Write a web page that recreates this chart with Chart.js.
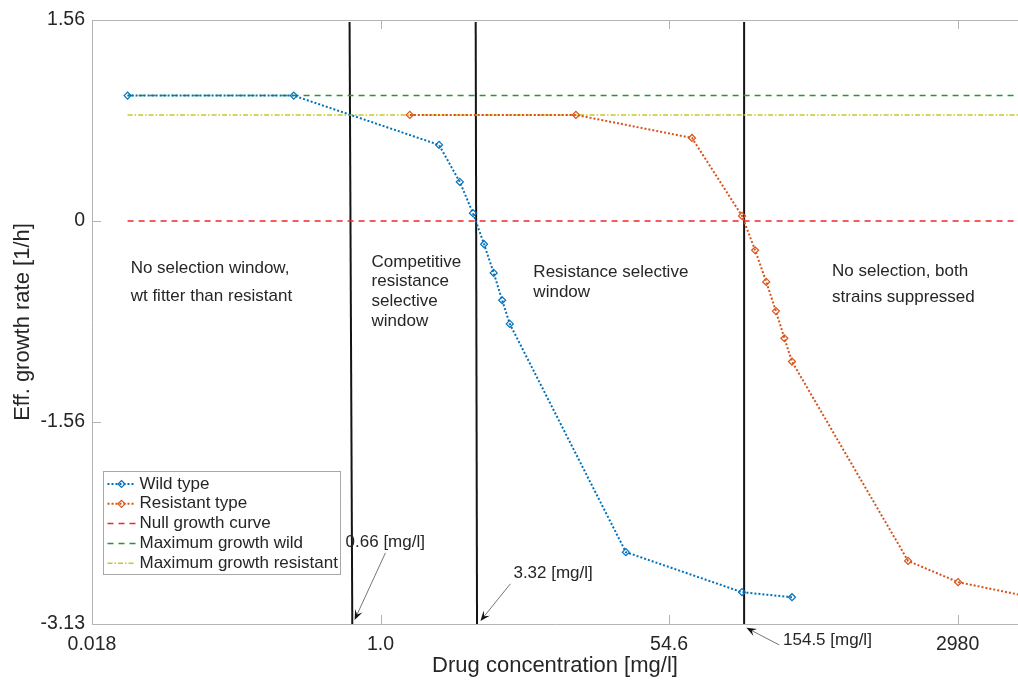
<!DOCTYPE html>
<html>
<head>
<meta charset="utf-8">
<script src="https://cdn.jsdelivr.net/npm/chart.js@4.4.1/dist/chart.umd.min.js"></script>
<style>
  html, body { margin: 0; padding: 0; background: #fff; overflow: hidden; }
</style>
</head>
<body>
<canvas id="chart" width="1018" height="681"></canvas>
<script>
// drug concentration [mg/l] vs effective growth rate [1/h]
const wildConc = [0.03, 0.3, 2.25, 3.0, 3.6, 4.2, 4.8, 5.4, 6.0, 30, 150, 300];
const wildRate = [0.973, 0.973, 0.59, 0.303, 0.06, -0.181, -0.404, -0.616, -0.80, -2.572, -2.883, -2.922];
const resConc = [1.5, 15, 75, 150, 180, 210, 240, 270, 300, 1500, 3000, 15000];
const resRate = [0.823, 0.823, 0.644, 0.039, -0.228, -0.474, -0.70, -0.911, -1.092, -2.64, -2.805, -2.99];

const nullRate = 0;
const maxWildRate = 0.973;
const maxResRate = 0.823;
const refConc = [0.03, 20000];           // reference lines run from first sample to past the edge

// window borders: concentration at top and at bottom of the plot
const cutTop = [0.651, 3.74, 154.5];
const cutBottom = [0.676, 3.81, 154.5];

const xTickVals = [Math.exp(-4), 1, Math.exp(4), Math.exp(8)];
const xTickLabels = ['0.018', '1.0', '54.6', '2980'];
const yTickVals = [-3.13, -1.56, 0, 1.56];
const yTickLabels = ['-3.13', '-1.56', '0', '1.56'];

const windowNotes = [
  {x: 0.0313, y: -0.365, gap: 28, lines: ['No selection window,', 'wt fitter than resistant']},
  {x: 0.883, y: -0.318, gap: 19.7, lines: ['Competitive', 'resistance', 'selective', 'window']},
  {x: 8.32, y: -0.396, gap: 20, lines: ['Resistance selective', 'window']},
  {x: 523, y: -0.388, gap: 26, lines: ['No selection, both', 'strains suppressed']}
];
const arrowNotes = [
  {text: '0.66 [mg/l]', tx: 0.616, ty: -2.492, from: [1.07, -2.578], to: [0.698, -3.098]},
  {text: '3.32 [mg/l]', tx: 6.31, ty: -2.733, from: [6.05, -2.818], to: [3.995, -3.106]},
  {text: '154.5 [mg/l]', tx: 265, ty: -3.253, from: [251, -3.292], to: [159.5, -3.16]}
];

const FONT = '"Liberation Sans", Arial, Helvetica, sans-serif';
const axisColor = '#b4b4b4';
const textColor = '#262626';

const pts = (xs, ys) => xs.map((x, i) => ({x: x, y: ys[i]}));

const datasets = [
  {
    label: 'Wild type', data: pts(wildConc, wildRate),
    borderColor: '#0072BD', borderWidth: 2, borderDash: [2, 2],
    pointStyle: 'rectRot', pointRadius: 3.5, pointBorderWidth: 1.2,
    pointBorderColor: '#0072BD', pointBackgroundColor: 'rgba(0,0,0,0)'
  },
  {
    label: 'Resistant type', data: pts(resConc, resRate),
    borderColor: '#D95319', borderWidth: 2, borderDash: [2, 2],
    pointStyle: 'rectRot', pointRadius: 3.5, pointBorderWidth: 1.2,
    pointBorderColor: '#D95319', pointBackgroundColor: 'rgba(0,0,0,0)'
  },
  {
    label: 'Null growth curve', data: pts(refConc, [nullRate, nullRate]),
    borderColor: '#f02828', borderWidth: 1.5, borderDash: [6, 5], pointRadius: 0
  },
  {
    label: 'Maximum growth wild', data: pts(refConc, [maxWildRate, maxWildRate]),
    borderColor: '#2a962a', borderWidth: 1.5, borderDash: [6, 5], pointRadius: 0
  },
  {
    label: 'Maximum growth resistant', data: pts(refConc, [maxResRate, maxResRate]),
    borderColor: '#c8c828', borderWidth: 1.5, borderDash: [5, 2, 1.5, 2], pointRadius: 0
  }
];
cutTop.forEach((c, i) => {
  datasets.push({
    label: 'cut' + i, hideInLegend: true,
    data: [{x: c, y: 1.545}, {x: cutBottom[i], y: -3.13}],
    borderColor: '#141414', borderWidth: 2, pointRadius: 0
  });
});

function diamond(ctx, x, y, r, color) {
  ctx.save();
  ctx.setLineDash([]);
  ctx.strokeStyle = color;
  ctx.lineWidth = 1.2;
  ctx.beginPath();
  ctx.moveTo(x, y - r); ctx.lineTo(x + r, y); ctx.lineTo(x, y + r); ctx.lineTo(x - r, y);
  ctx.closePath();
  ctx.stroke();
  ctx.restore();
}

function arrow(ctx, x1, y1, x2, y2) {
  const a = Math.atan2(y2 - y1, x2 - x1);
  const c = Math.cos(a), s = Math.sin(a);
  ctx.save();
  ctx.strokeStyle = '#666';
  ctx.lineWidth = 0.9;
  ctx.beginPath();
  ctx.moveTo(x1, y1);
  ctx.lineTo(x2 - 6 * c, y2 - 6 * s);
  ctx.stroke();
  // notched head
  const L = 10, W = 4;
  ctx.fillStyle = '#111';
  ctx.beginPath();
  ctx.moveTo(x2, y2);
  ctx.lineTo(x2 - L * c + W * s, y2 - L * s - W * c);
  ctx.lineTo(x2 - 6 * c, y2 - 6 * s);
  ctx.lineTo(x2 - L * c - W * s, y2 - L * s + W * c);
  ctx.closePath();
  ctx.fill();
  ctx.restore();
}

const framePlugin = {
  id: 'frame',
  afterDatasetsDraw(chart) {
    const {ctx, chartArea: a, scales: {x, y}} = chart;
    ctx.save();
    ctx.strokeStyle = axisColor;
    ctx.lineWidth = 1;
    ctx.beginPath();
    ctx.moveTo(a.left, a.top + 0.5);
    ctx.lineTo(a.right, a.top + 0.5);
    xTickVals.forEach(v => {
      const px = Math.round(x.getPixelForValue(v)) + 0.5;
      ctx.moveTo(px, a.bottom); ctx.lineTo(px, a.bottom - 9);
      ctx.moveTo(px, a.top); ctx.lineTo(px, a.top + 9);
    });
    yTickVals.forEach(v => {
      const py = Math.round(y.getPixelForValue(v)) + 0.5;
      ctx.moveTo(a.left, py); ctx.lineTo(a.left + 9, py);
    });
    ctx.stroke();

    // window descriptions
    ctx.fillStyle = textColor;
    ctx.font = '17px ' + FONT;
    ctx.textBaseline = 'middle';
    ctx.textAlign = 'left';
    windowNotes.forEach(n => {
      const px = x.getPixelForValue(n.x), py = y.getPixelForValue(n.y);
      n.lines.forEach((t, i) => ctx.fillText(t, px, py + i * n.gap));
    });

    // arrows with concentration labels
    arrowNotes.forEach(n => {
      arrow(ctx, x.getPixelForValue(n.from[0]), y.getPixelForValue(n.from[1]),
        x.getPixelForValue(n.to[0]), y.getPixelForValue(n.to[1]));
      ctx.fillStyle = textColor;
      ctx.fillText(n.text, x.getPixelForValue(n.tx), y.getPixelForValue(n.ty));
    });

    // legend box
    const items = chart.data.datasets.filter(d => !d.hideInLegend);
    const bx = a.left + 11.5, by = a.top + 451.5, bw = 237, bh = 103;
    ctx.fillStyle = '#fff';
    ctx.fillRect(bx, by, bw, bh);
    ctx.strokeStyle = '#a8a8a8';
    ctx.lineWidth = 1;
    ctx.strokeRect(bx, by, bw, bh);
    items.forEach((d, i) => {
      const cy = by + 12.5 + i * 19.8;
      ctx.save();
      ctx.strokeStyle = d.borderColor;
      ctx.lineWidth = d.borderWidth;
      ctx.setLineDash(d.borderDash || []);
      ctx.beginPath();
      ctx.moveTo(bx + 4, cy);
      ctx.lineTo(bx + 32, cy);
      ctx.stroke();
      ctx.restore();
      if (d.pointRadius) diamond(ctx, bx + 18, cy, 3.5, d.borderColor);
      ctx.fillStyle = textColor;
      ctx.fillText(d.label, bx + 36, cy);
    });
    ctx.restore();
  }
};

new Chart(document.getElementById('chart').getContext('2d'), {
  type: 'line',
  data: {datasets: datasets},
  options: {
    responsive: false,
    animation: false,
    devicePixelRatio: 1,
    layout: {autoPadding: false, padding: {top: 20, left: 0, right: 0, bottom: 0}},
    plugins: {legend: {display: false}, tooltip: {enabled: false}},
    scales: {
      x: {
        type: 'logarithmic',
        min: Math.exp(-4),
        max: Math.exp(8.837),
        afterBuildTicks: s => { s.ticks = xTickVals.map(v => ({value: v})); },
        afterFit: s => { s.height = 57; s.paddingRight = 0; s.paddingLeft = 0; },
        grid: {display: false, drawTicks: false},
        border: {display: true, color: axisColor, width: 1},
        ticks: {
          callback: (v, i) => xTickLabels[i],
          autoSkip: false, maxRotation: 0, padding: 9,
          color: textColor, font: {family: FONT, size: 19.5}
        },
        title: {
          display: true, text: 'Drug concentration [mg/l]', color: textColor,
          font: {family: FONT, size: 22}, padding: {top: 0, bottom: 2}
        }
      },
      y: {
        type: 'linear',
        min: -3.13,
        max: 1.56,
        afterBuildTicks: s => { s.ticks = yTickVals.map(v => ({value: v})); },
        afterFit: s => { s.width = 92; s.paddingTop = 0; s.paddingBottom = 0; },
        grid: {display: false, drawTicks: false},
        border: {display: true, color: axisColor, width: 1},
        ticks: {
          callback: (v, i) => yTickLabels[i],
          padding: 7, color: textColor, font: {family: FONT, size: 19.5}
        },
        title: {
          display: true, text: 'Eff. growth rate [1/h]', color: textColor,
          font: {family: FONT, size: 22}, padding: {top: 10, bottom: 0}
        }
      }
    }
  },
  plugins: [framePlugin]
});
</script>
</body>
</html>
